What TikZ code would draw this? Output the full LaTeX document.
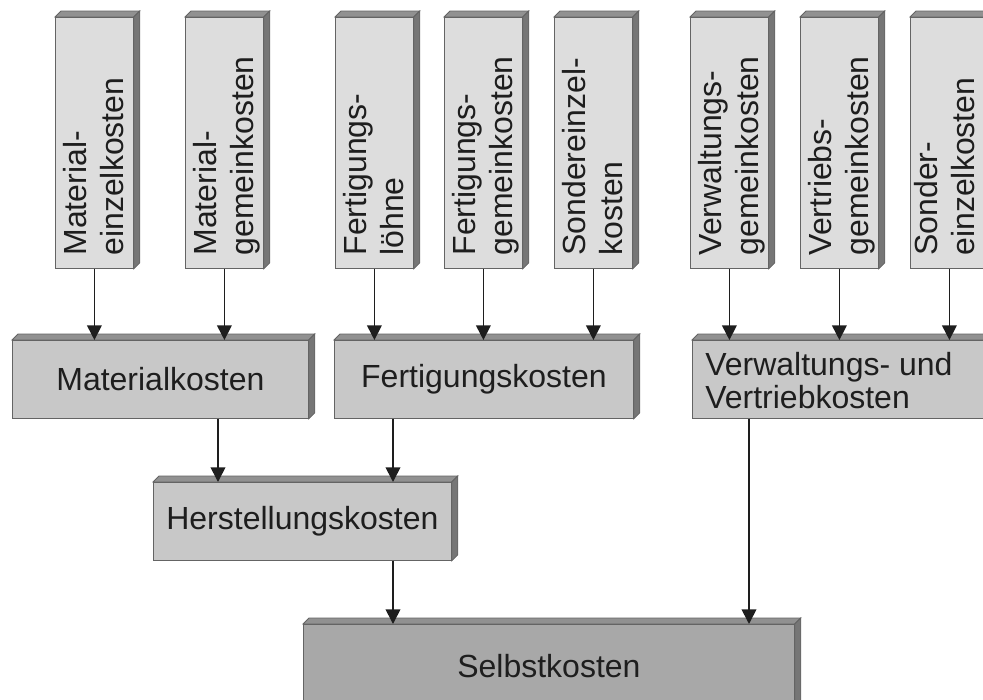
\documentclass[tikz,border=0pt]{standalone}
\usepackage{fontspec}
\setmainfont{Liberation Sans}
\usepackage{xcolor}
\usepackage{tikz}
\usetikzlibrary{calc,arrows.meta}

\definecolor{hell}{RGB}{221,221,221}
\definecolor{mittel}{RGB}{200,200,200}
\definecolor{dunkel}{RGB}{168,168,168}
\definecolor{dach}{RGB}{145,145,145}
\definecolor{seite}{RGB}{118,118,118}
\definecolor{rand}{RGB}{100,100,100}
\definecolor{schrift}{RGB}{30,30,30}

\begin{document}
\begin{tikzpicture}[x=0.75pt,y=0.75pt,yscale=-1,xscale=1,
  font=\fontsize{24}{27.75}\selectfont,
  kasten/.style={draw=rand, line width=0.6pt, fill=#1, inner sep=0pt, anchor=north west, text=schrift,
    append after command={\pgfextra{\let\qn\tikzlastnode
      \filldraw[draw=rand, line width=0.6pt, fill=dach] (\qn.north west) -- ++(6,-6) -- ($(\qn.north east)+(6,-6)$) -- (\qn.north east) -- cycle;
      \filldraw[draw=rand, line width=0.6pt, fill=seite] (\qn.north east) -- ++(6,-6) -- ($(\qn.south east)+(6,-6)$) -- (\qn.south east) -- cycle;}}},
  oben/.style={kasten=hell, minimum width=58.5pt, minimum height=188.25pt},
  senkrecht/.style={rotate=90, anchor=north west, align=left, inner sep=0pt, text=schrift},
  pfeil/.style={draw=schrift, line width=1.25pt, -{Triangle[length=11pt,width=11pt]}}]
\clip (0,0) rectangle (983,700);

%Shape: Box [Einzel- und Gemeinkosten]
\node[oben] (me) at (55,17) {};
\node[oben] (mg) at (185,17) {};
\node[oben] (fl) at (335,17) {};
\node[oben] (fg) at (444,17) {};
\node[oben] (se) at (554,17) {};
\node[oben] (vw) at (690,17) {};
\node[oben] (vt) at (800,17) {};
\node[oben] (so) at (910,17) {};

% Text Node
\node[senkrecht] (me-t) at ($(me.south west)+(8,-13)$) {Material-\\einzelkosten};
\node[senkrecht] (mg-t) at ($(mg.south west)+(8,-13)$) {Material-\\gemeinkosten};
\node[senkrecht] (fl-t) at ($(fl.south west)+(8,-13)$) {Fertigungs-\\löhne};
\node[senkrecht] (fg-t) at ($(fg.south west)+(8,-13)$) {Fertigungs-\\gemeinkosten};
\node[senkrecht] (se-t) at ($(se.south west)+(8,-13)$) {Sondereinzel-\\kosten};
\node[senkrecht] (vw-t) at ($(vw.south west)+(8,-13)$) {Verwaltungs-\\gemeinkosten};
\node[senkrecht] (vt-t) at ($(vt.south west)+(8,-13)$) {Vertriebs-\\gemeinkosten};
\node[senkrecht] (so-t) at ($(so.south west)+(4,-13)$) {Sonder-\\einzelkosten};

%Shape: Box [Kostenbereiche]
\node[kasten=mittel, minimum width=222pt, minimum height=58.5pt] (mk) at (12,340) {Materialkosten};
\node[kasten=mittel, minimum width=224.25pt, minimum height=58.5pt] (fk) at (334,340) {Fertigungskosten};
\node[kasten=mittel, minimum width=240pt, minimum height=58.5pt] (vv) at (692,340) {};
% Text Node
\node[anchor=north west, align=left, inner sep=0pt, text=schrift, font=\fontsize{24}{24.75}\selectfont] (vv-t) at ($(vv.north west)+(13,12)$) {Verwaltungs- und\\Vertriebkosten};

%Shape: Box [Herstellungs- und Selbstkosten]
\node[kasten=mittel, minimum width=223.5pt, minimum height=58.5pt] (hk) at (153,482) {Herstellungskosten};
\node[kasten=dunkel, minimum width=368.25pt, minimum height=63pt] (sk) at (303,624) {Selbstkosten};

%Straight Lines with arrows
\draw[pfeil] (me) -- (me |- mk.north);
\draw[pfeil] (mg) -- (mg |- mk.north);
\draw[pfeil] (fl) -- (fl |- fk.north);
\draw[pfeil] (fg) -- (fg |- fk.north);
\draw[pfeil] (se) -- (se |- fk.north);
\draw[pfeil] (vw) -- (vw |- vv.north);
\draw[pfeil] (vt) -- (vt |- vv.north);
\draw[pfeil] (so) -- (so |- vv.north);
\draw[pfeil] ($(mk.south west)+(206,0)$) -- ($(hk.north west)+(65,0)$);
\draw[pfeil] ($(fk.south west)+(59,0)$) -- ($(hk.north west)+(240,0)$);
\draw[pfeil] ($(hk.south west)+(240,0)$) -- ($(sk.north west)+(90,0)$);
\draw[pfeil] ($(vv.south west)+(57,0)$) -- ($(sk.north west)+(446,0)$);

\end{tikzpicture}
\end{document}
